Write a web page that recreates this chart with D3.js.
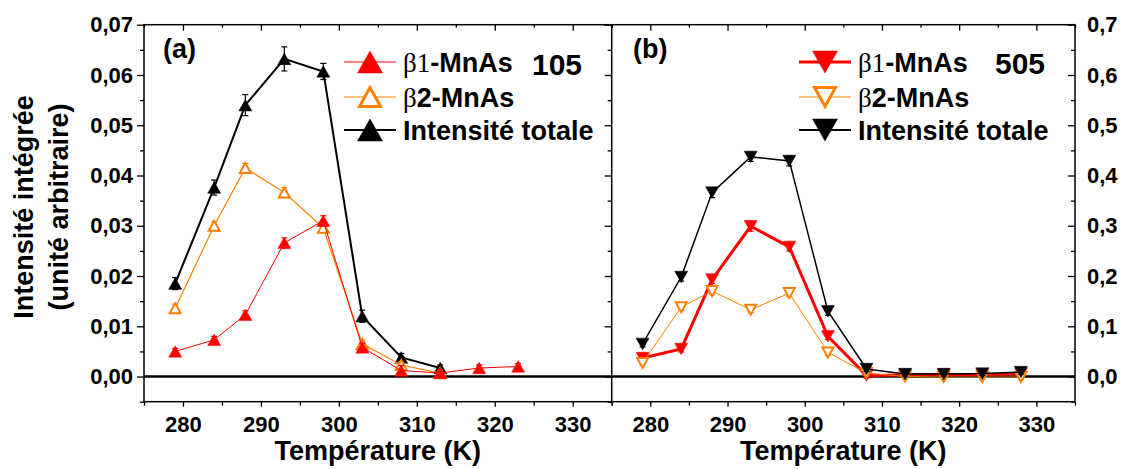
<!DOCTYPE html>
<html><head><meta charset="utf-8">
<script src="https://cdn.jsdelivr.net/npm/d3@7"></script>
<style>
body{margin:0;background:#fff;}
svg text{font-family:"Liberation Sans",Arial,sans-serif;font-weight:bold;fill:#000;}
</style></head>
<body><svg id="c" width="1124" height="469"></svg>
<script>
// ---------- data ----------
const tempA = [279, 284, 288, 293, 298, 303, 308, 313, 318, 323];
const b1A = [0.0050, 0.0073, 0.0123, 0.0266, 0.0310, 0.0058, 0.0012, 0.0007, 0.0017, 0.0020];
const b1AErr = [0.0006, 0.0007, 0.0008, 0.0010, 0.0010, 0.0008, 0.0010, 0.0007, 0.0006, 0.0006];
const tempA2 = [279, 284, 288, 293, 298, 303, 308, 313];
const b2A = [0.0136, 0.0300, 0.0415, 0.0366, 0.0296, 0.0065, 0.0023, 0.0007];
const b2AErr = [0.0008, 0.0008, 0.0009, 0.0010, 0.0009, 0.0008, 0.0006, 0.0006];
const totA = [0.0185, 0.0376, 0.0540, 0.0632, 0.0607, 0.0120, 0.0038, 0.0017];
const totAErr = [0.0012, 0.0015, 0.0021, 0.0024, 0.0016, 0.0012, 0.0008, 0.0006];

const tempB = [279, 284, 288, 293, 298, 303, 308, 313, 318, 323, 328];
const b1B = [0.037, 0.055, 0.193, 0.299, 0.258, 0.080, 0.002, 0.003, 0.004, 0.004, 0.006];
const b1BErr = [0.005, 0.006, 0.008, 0.010, 0.008, 0.006, 0.005, 0.004, 0.004, 0.004, 0.004];
const b2B = [0.027, 0.138, 0.170, 0.133, 0.166, 0.048, 0.007, 0.000, -0.001, -0.001, -0.001];
const b2BErr = [0.005, 0.006, 0.007, 0.006, 0.007, 0.005, 0.004, 0.004, 0.004, 0.004, 0.004];
const totB = [0.065, 0.198, 0.366, 0.437, 0.429, 0.130, 0.015, 0.005, 0.005, 0.006, 0.009];
const totBErr = [0.006, 0.008, 0.010, 0.009, 0.010, 0.008, 0.005, 0.004, 0.004, 0.004, 0.004];

const xTicks = [280, 290, 300, 310, 320, 330];
const xMinor = [275, 285, 295, 305, 315, 325, 335];
const yTicksA = [0, 0.01, 0.02, 0.03, 0.04, 0.05, 0.06, 0.07];
const yTicksB = [0, 0.1, 0.2, 0.3, 0.4, 0.5, 0.6, 0.7];
const xTitle = "Température (K)";
const yTitle1 = "Intensité intégrée";
const yTitle2 = "(unité arbitraire)";

// ---------- scales ----------
const svg = d3.select("#c");
const L = 144, M = 611.7, R = 1075, T = 24.7, B = 401.7;
const xA = d3.scaleLinear().domain([275, 335]).range([L, M]);
const xB = d3.scaleLinear().domain([275, 335]).range([M, R]);
const yA = d3.scaleLinear().domain([-0.005, 0.07]).range([B, T]);
const yB = d3.scaleLinear().domain([-0.05, 0.7]).range([B, T]);

const RED = "#ff0000", ORANGE = "#ff8000";
const comma = f => v => d3.format(f)(v).replace(".", ",");

function styleAxis(g, sw) {
  g.select(".domain").remove();
  g.selectAll("line").attr("stroke", "#000").attr("stroke-width", sw || 1.3);
  g.selectAll("text").style("font-size", "22px");
}

// bottom axes
[xA, xB].forEach(x => {
  svg.append("g").attr("transform", `translate(0,${B})`)
    .call(d3.axisBottom(x).tickValues(xTicks).tickSize(5).tickPadding(10).tickFormat(d3.format("d")))
    .call(g => styleAxis(g));
  svg.append("g").attr("transform", `translate(0,${B})`)
    .call(d3.axisBottom(x).tickValues(xMinor).tickSize(4).tickFormat(""))
    .call(g => styleAxis(g));
  // top inward ticks
  svg.append("g").attr("transform", `translate(0,${T})`)
    .call(d3.axisBottom(x).tickValues(xTicks).tickSize(6).tickFormat(""))
    .call(g => styleAxis(g));
  svg.append("g").attr("transform", `translate(0,${T})`)
    .call(d3.axisBottom(x).tickValues(xMinor).tickSize(3).tickFormat(""))
    .call(g => styleAxis(g));
});

const minorA = d3.range(0.005, 0.07, 0.01).concat([-0.005]);
// left axis (a)
svg.append("g").attr("transform", `translate(${L},0)`)
  .call(d3.axisLeft(yA).tickValues(yTicksA).tickSize(7).tickPadding(4).tickFormat(comma(".2f")))
  .call(g => styleAxis(g));
svg.append("g").attr("transform", `translate(${L},0)`)
  .call(d3.axisLeft(yA).tickValues(minorA).tickSize(4).tickFormat(""))
  .call(g => styleAxis(g));
// divider ticks (pointing into panel a)
svg.append("g").attr("transform", `translate(${M},0)`)
  .call(d3.axisRight(yA).tickValues(yTicksA).tickSize(-7).tickFormat(""))
  .call(g => styleAxis(g));
svg.append("g").attr("transform", `translate(${M},0)`)
  .call(d3.axisRight(yA).tickValues(minorA).tickSize(-4).tickFormat(""))
  .call(g => styleAxis(g));
// right axis (b): inward ticks, labels outside
const minorB = d3.range(0.05, 0.7, 0.1).concat([-0.05]);
svg.append("g").attr("transform", `translate(${R},0)`)
  .call(d3.axisRight(yB).tickValues(yTicksB).tickSize(-7).tickPadding(12).tickFormat(comma(".1f")))
  .call(g => styleAxis(g));
svg.append("g").attr("transform", `translate(${R},0)`)
  .call(d3.axisRight(yB).tickValues(minorB).tickSize(-4).tickFormat(""))
  .call(g => styleAxis(g));

// frame
svg.append("rect").attr("x", L).attr("y", T).attr("width", R - L).attr("height", B - T)
  .attr("fill", "none").attr("stroke", "#000").attr("stroke-width", 1.5);
svg.append("line").attr("x1", M).attr("x2", M).attr("y1", T).attr("y2", B)
  .attr("stroke", "#000").attr("stroke-width", 1.5);
// zero line
svg.append("line").attr("x1", L).attr("x2", R).attr("y1", yA(0)).attr("y2", yA(0))
  .attr("stroke", "#000").attr("stroke-width", 2.5);

// titles
[xA, xB].forEach(x => {
  svg.append("text").attr("x", (x.range()[0] + x.range()[1]) / 2).attr("y", 460)
    .attr("text-anchor", "middle").style("font-size", "27px").text(xTitle);
});
svg.append("text").attr("transform", "translate(33,207) rotate(-90)")
  .attr("text-anchor", "middle").style("font-size", "27px").text(yTitle1);
svg.append("text").attr("transform", "translate(68,207) rotate(-90)")
  .attr("text-anchor", "middle").style("font-size", "27px").text(yTitle2);

// ---------- series ----------
function tri(w, h, down) {
  return down ? `M0,${h/2}L${w/2},${-h/2}L${-w/2},${-h/2}Z` : `M0,${-h/2}L${w/2},${h/2}L${-w/2},${h/2}Z`;
}
function series(x, y, ts, vs, es, o) {
  const g = svg.append("g");
  const pts = ts.map((t, i) => [x(t), y(vs[i]), y(vs[i] - es[i]), y(vs[i] + es[i])]);
  g.append("path").attr("d", d3.line()(pts.map(p => [p[0], p[1]])))
    .attr("fill", "none").attr("stroke", o.color).attr("stroke-width", o.lw);
  pts.forEach(p => {
    g.append("line").attr("x1", p[0]).attr("x2", p[0]).attr("y1", p[2]).attr("y2", p[3])
      .attr("stroke", o.ecolor || o.color).attr("stroke-width", 1.2);
    [p[2], p[3]].forEach(yy => g.append("line").attr("x1", p[0] - 3).attr("x2", p[0] + 3)
      .attr("y1", yy).attr("y2", yy).attr("stroke", o.ecolor || o.color).attr("stroke-width", 1.2));
  });
  g.selectAll("path.m").data(pts).enter().append("path").attr("class", "m")
    .attr("transform", p => `translate(${p[0]},${p[1]})`)
    .attr("d", tri(o.open ? 11 : 13, o.open ? 10 : 11.5, o.down))
    .attr("fill", o.open ? "#fff" : o.color)
    .attr("stroke", o.color).attr("stroke-width", o.open ? 2 : 0.5)
    .attr("stroke-linejoin", "miter");
}

// panel (a)
series(xA, yA, tempA2, totA, totAErr, {color: "#000", lw: 2});
series(xA, yA, tempA2, b2A, b2AErr, {color: ORANGE, lw: 1.2, open: true});
series(xA, yA, tempA, b1A, b1AErr, {color: RED, lw: 1});
// panel (b)
series(xB, yB, tempB, b1B, b1BErr, {color: RED, lw: 3, down: true});
series(xB, yB, tempB, b2B, b2BErr, {color: ORANGE, lw: 1, open: true, down: true});
series(xB, yB, tempB, totB, totBErr, {color: "#000", lw: 1.5, down: true});

// ---------- legends & labels ----------
function legend(x0, rows, down) {
  rows.forEach((r, i) => {
    const yy = [62, 97, 130][i];
    svg.append("line").attr("x1", x0).attr("x2", x0 + 52).attr("y1", yy).attr("y2", yy)
      .attr("stroke", r.color).attr("stroke-width", r.lw);
    svg.append("path").attr("transform", `translate(${x0 + 26},${yy})`)
      .attr("d", tri(r.open ? 21 : 25, r.open ? 19 : 22, down))
      .attr("fill", r.open ? "#fff" : r.color).attr("stroke", r.color)
      .attr("stroke-width", r.open ? 3 : 0.5);
    const t = svg.append("text").attr("x", x0 + 59).attr("y", yy + 10).style("font-size", "27px");
    r.parts.forEach(p => {
      const s = t.append("tspan").text(p[0]);
      if (p[1] === "serif") s.style("font-family", "'Liberation Serif','Times New Roman',serif").style("font-weight", "normal");
    });
  });
}
legend(344, [
  {color: RED, lw: 1, parts: [["β1", "serif"], ["-MnAs"]]},
  {color: ORANGE, lw: 1, open: true, parts: [["β", "serif"], ["2-MnAs"]]},
  {color: "#000", lw: 2, parts: [["Intensité totale"]]}
], false);
legend(799, [
  {color: RED, lw: 3, parts: [["β1", "serif"], ["-MnAs"]]},
  {color: ORANGE, lw: 1, open: true, parts: [["β", "serif"], ["2-MnAs"]]},
  {color: "#000", lw: 2, parts: [["Intensité totale"]]}
], true);

svg.append("text").attr("x", 163).attr("y", 58).style("font-size", "27px").text("(a)");
svg.append("text").attr("x", 633).attr("y", 58).style("font-size", "27px").text("(b)");
svg.append("text").attr("x", 532).attr("y", 75).style("font-size", "30px").text("105");
svg.append("text").attr("x", 995).attr("y", 74).style("font-size", "30px").text("505");
</script></body></html>
